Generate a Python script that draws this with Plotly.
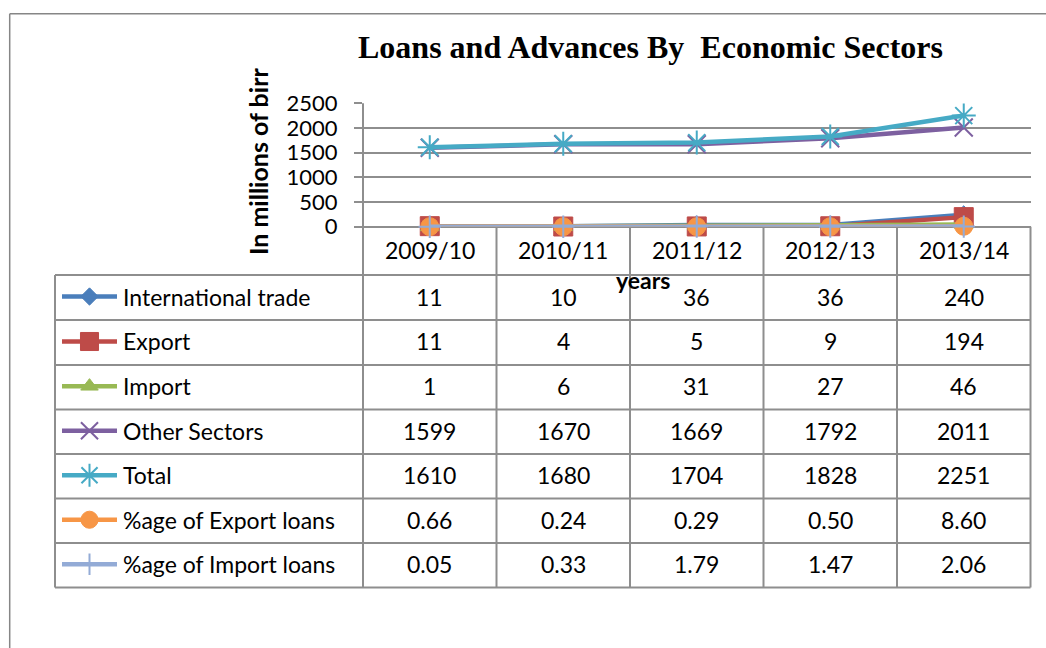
import plotly.graph_objects as go

# ---------------- data ----------------
years = ["2009/10", "2010/11", "2011/12", "2012/13", "2013/14"]
series_names = ["International trade", "Export", "Import", "Other Sectors",
                "Total", "%age of Export loans", "%age of Import loans"]
international_trade = [11, 10, 36, 36, 240]
export = [11, 4, 5, 9, 194]
imports = [1, 6, 31, 27, 46]
other_sectors = [1599, 1670, 1669, 1792, 2011]
total = [1610, 1680, 1704, 1828, 2251]
pct_export = [0.66, 0.24, 0.29, 0.50, 8.60]
pct_import = [0.05, 0.33, 1.79, 1.47, 2.06]
y_ticks = [0, 500, 1000, 1500, 2000, 2500]

series_values = [international_trade, export, imports, other_sectors,
                 total, pct_export, pct_import]
value_formats = ["{:d}", "{:d}", "{:d}", "{:d}", "{:d}", "{:.2f}", "{:.2f}"]

# ---------------- styles ----------------
W, H = 1046, 648
colors = ["#4A7EBB", "#BE4B48", "#98B954", "#7D60A0", "#46AAC5", "#F79646", "#93ABD6"]
symbols = ["diamond", "square", "triangle-up", "x-thin-open",
           "asterisk-open", "circle", "cross-thin-open"]
sizes = [14, 19, 16, 18, 20, 18, 16]
grid_col = "#8E8E8E"
FONT = "Lato, Calibri, Carlito, sans-serif"
FS = 23


def px(x):
    return x / W


def py(y):
    return 1 - y / H


plot_left, plot_right = 363, 1030.5
plot_top, plot_bottom = 103.3, 226.7
col_w = (plot_right - plot_left) / len(years)
row_bounds = [275, 320, 365, 409.5, 454, 498.5, 543, 587.5]
table_left = 55

fig = go.Figure()

# data lines
for name, vals, c, s, sz in zip(series_names, series_values, colors, symbols, sizes):
    open_sym = s.endswith("open")
    fig.add_trace(go.Scatter(
        x=years, y=vals, name=name, mode="lines+markers",
        line=dict(color=c, width=4.5),
        marker=dict(symbol=s, size=sz, color=c,
                    line=dict(color=c, width=2 if open_sym else 1)),
        cliponaxis=False, showlegend=False,
        xaxis="x", yaxis="y",
    ))

# legend keys inside the data table (aux full-page axis in pixels)
shapes = []
annotations = []
for i, (name, c, s, sz) in enumerate(zip(series_names, colors, symbols, sizes)):
    yc = (row_bounds[i] + row_bounds[i + 1]) / 2 - 1
    shapes.append(dict(type="line", xref="x2", yref="y2", x0=62, x1=117, y0=yc, y1=yc,
                       line=dict(color=c, width=4.5), layer="above"))
    open_sym = s.endswith("open")
    fig.add_trace(go.Scatter(
        x=[89.5], y=[yc], mode="markers",
        marker=dict(symbol=s, size=sz * 0.95, color=c,
                    line=dict(color=c, width=2 if open_sym else 1)),
        xaxis="x2", yaxis="y2", showlegend=False, hoverinfo="skip", cliponaxis=False,
    ))
    annotations.append(dict(text=name, x=px(121), y=py(yc), xref="paper", yref="paper",
                            xanchor="left", yanchor="middle", showarrow=False,
                            font=dict(family=FONT, size=FS, color="black")))
    for j, v in enumerate(series_values[i]):
        annotations.append(dict(text=value_formats[i].format(v), x=years[j], y=py(yc),
                                xref="x", yref="paper", xanchor="center", yanchor="middle",
                                showarrow=False,
                                font=dict(family=FONT, size=FS, color="black")))

# header (category labels)
for yr in years:
    annotations.append(dict(text=yr, x=yr, y=py(250), xref="x", yref="paper",
                            xanchor="center", yanchor="middle", showarrow=False,
                            font=dict(family=FONT, size=FS, color="black")))

# title, axis titles
annotations.append(dict(text="<b>Loans and Advances By\u00a0 Economic Sectors</b>",
                        x=px(650), y=py(47), xref="paper", yref="paper",
                        xanchor="center", yanchor="middle", showarrow=False,
                        font=dict(family="Liberation Serif, Times New Roman, serif",
                                  size=32, color="black")))
annotations.append(dict(text="<b>In millions of birr</b>", x=px(258), y=py(162),
                        xref="paper", yref="paper", xanchor="center", yanchor="middle",
                        textangle=-90, showarrow=False,
                        font=dict(family=FONT, size=25, color="black")))
annotations.append(dict(text="<b>years</b>", x=px(643), y=py(280), xref="paper", yref="paper",
                        xanchor="center", yanchor="middle", showarrow=False,
                        font=dict(family=FONT, size=FS, color="black")))

# table grid lines
lw = 2
for yb in row_bounds:
    shapes.append(dict(type="line", xref="paper", yref="paper",
                       x0=px(table_left), x1=px(plot_right), y0=py(yb), y1=py(yb),
                       line=dict(color=grid_col, width=lw), layer="below"))
shapes.append(dict(type="line", xref="paper", yref="paper",
                   x0=px(table_left), x1=px(table_left), y0=py(row_bounds[0]), y1=py(row_bounds[-1]),
                   line=dict(color=grid_col, width=lw), layer="below"))
shapes.append(dict(type="line", xref="paper", yref="paper",
                   x0=px(plot_left), x1=px(plot_left), y0=py(plot_top), y1=py(row_bounds[-1]),
                   line=dict(color=grid_col, width=lw), layer="below"))
for k in range(1, len(years) + 1):
    xk = plot_left + k * col_w
    shapes.append(dict(type="line", xref="paper", yref="paper",
                       x0=px(xk), x1=px(xk), y0=py(plot_bottom), y1=py(row_bounds[-1]),
                       line=dict(color=grid_col, width=lw), layer="below"))
# chart outer border (left and top visible)
shapes.append(dict(type="line", xref="paper", yref="paper", x0=px(9.7), x1=px(9.7),
                   y0=py(13.7), y1=0, line=dict(color="#868686", width=1.5)))
shapes.append(dict(type="line", xref="paper", yref="paper", x0=px(9.7), x1=1,
                   y0=py(13.7), y1=py(13.7), line=dict(color="#868686", width=1.5)))

fig.update_layout(
    width=W, height=H,
    margin=dict(l=0, r=0, t=0, b=0, autoexpand=False),
    paper_bgcolor="white", plot_bgcolor="rgba(0,0,0,0)",
    xaxis=dict(domain=[px(plot_left), px(plot_right)], type="category",
               categoryorder="array", categoryarray=years, automargin=False,
               range=[-0.5, len(years) - 0.5], showticklabels=False,
               showgrid=False, zeroline=False, showline=False, ticks=""),
    yaxis=dict(domain=[py(plot_bottom), py(plot_top)], range=[0, 2500], automargin=False,
               tickvals=y_ticks, ticks="outside", ticklen=8, tickcolor=grid_col, tickwidth=lw,
               showgrid=True, gridcolor=grid_col, gridwidth=lw,
               zeroline=True, zerolinecolor=grid_col, zerolinewidth=lw,
               showline=False, ticklabelstandoff=12,
               tickfont=dict(family=FONT, size=22, color="black")),
    xaxis2=dict(domain=[0, 1], range=[0, W], visible=False, anchor="y2", automargin=False),
    yaxis2=dict(domain=[0, 1], range=[H, 0], visible=False, anchor="x2", automargin=False),
    shapes=shapes,
    annotations=annotations,
    showlegend=False,
)

fig.write_html("out.html")
